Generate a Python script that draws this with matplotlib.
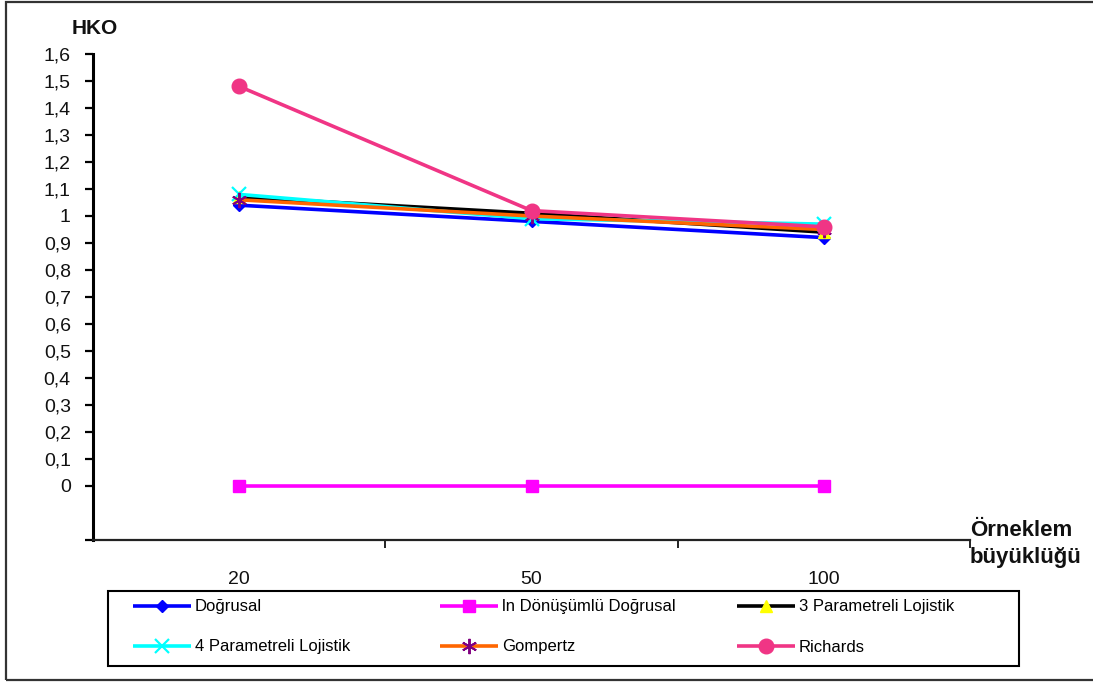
import matplotlib
matplotlib.use("Agg")
import matplotlib.pyplot as plt
from matplotlib.patches import Rectangle
from matplotlib.ticker import FixedLocator, FixedFormatter

plt.rcParams['font.family'] = ['Liberation Sans', 'DejaVu Sans']

# Sample sizes and mean-square-error values per growth model
sample_sizes = ["20", "50", "100"]
dogrusal = [1.04, 0.98, 0.92]
ln_dogrusal = [0.0, 0.0, 0.0]
lojistik_3p = [1.07, 1.01, 0.94]
lojistik_4p = [1.08, 0.99, 0.97]
gompertz = [1.06, 1.00, 0.95]
richards = [1.48, 1.02, 0.96]

y_ticks = [0, 0.1, 0.2, 0.3, 0.4, 0.5, 0.6, 0.7, 0.8, 0.9, 1.0,
           1.1, 1.2, 1.3, 1.4, 1.5, 1.6]
y_tick_labels = ["0", "0,1", "0,2", "0,3", "0,4", "0,5", "0,6", "0,7", "0,8",
                 "0,9", "1", "1,1", "1,2", "1,3", "1,4", "1,5", "1,6"]

W, H = 1093, 682
fig = plt.figure(figsize=(W / 100, H / 100), dpi=100)
ax = fig.add_axes([93/W, 1 - 540/H, (970 - 93)/W, (540 - 54)/H])

x = list(range(len(sample_sizes)))
lw = 2.6

series = [
    dict(y=dogrusal, label="Doğrusal", color="#0000FF", marker="D", ms=6.5,
         mfc="#0000FF", mec="#0000FF", mew=1),
    dict(y=ln_dogrusal, label="ln Dönüşümlü Doğrusal", color="#FF00FF", marker="s", ms=8.5,
         mfc="#FF00FF", mec="#FF00FF", mew=1),
    dict(y=lojistik_3p, label="3 Parametreli Lojistik", color="#000000", marker="^", ms=8.5,
         mfc="#FFFF00", mec="#FFFF00", mew=1),
    dict(y=lojistik_4p, label="4 Parametreli Lojistik", color="#00FFFF", marker="x", ms=10,
         mfc="#00FFFF", mec="#00FFFF", mew=1.6),
    dict(y=gompertz, label="Gompertz", color="#FF6600", marker=(6, 2, 0), ms=11,
         mfc="#800080", mec="#800080", mew=1.4),
    dict(y=richards, label="Richards", color="#F03585", marker="o", ms=10.5,
         mfc="#F03585", mec="#F03585", mew=1),
]

handles = []
for s in series:
    h, = ax.plot(x, s["y"], color=s["color"], lw=lw, marker=s["marker"],
                 markersize=s["ms"], markerfacecolor=s["mfc"],
                 markeredgecolor=s["mec"], markeredgewidth=s["mew"],
                 label=s["label"], solid_capstyle="butt")
    handles.append(h)

ax.set_xlim(-0.5, 2.5)
ax.set_ylim(-0.2, 1.6)

for side in ("top", "right"):
    ax.spines[side].set_visible(False)
ax.spines["left"].set_linewidth(2.2)
ax.spines["left"].set_color("#000000")
ax.spines["bottom"].set_linewidth(1.6)
ax.spines["bottom"].set_color("#222222")

# y axis: labelled ticks 0..1.6 plus an unlabelled tick at the bottom
ax.yaxis.set_major_locator(FixedLocator([-0.2] + y_ticks))
ax.yaxis.set_major_formatter(FixedFormatter([""] + y_tick_labels))
ax.tick_params(axis="y", which="major", direction="out", length=6, width=1.6,
               pad=10, labelsize=14, colors="#000000", labelcolor="#111111")

# x axis: ticks on category boundaries, labels centred on categories
ax.xaxis.set_major_locator(FixedLocator([0.5, 1.5, 2.5]))
ax.xaxis.set_major_formatter(FixedFormatter(["", "", ""]))
ax.xaxis.set_minor_locator(FixedLocator(x))
ax.xaxis.set_minor_formatter(FixedFormatter(sample_sizes))
ax.tick_params(axis="x", which="major", direction="out", length=6, width=1.4,
               colors="#222222")
ax.tick_params(axis="x", which="minor", length=0, pad=22, labelsize=14,
               labelcolor="#111111")

fig.text(95/W, 1 - 28/H, "HKO", fontsize=15, fontweight="bold",
         ha="center", va="center", color="#111111")
fig.text(970/W, 1 - 531/H, "Örneklem", fontsize=16, fontweight="bold",
         ha="left", va="center", color="#111111")
fig.text(970/W, 1 - 557/H, "büyüklüğü", fontsize=16, fontweight="bold",
         ha="left", va="center", color="#111111")

# legend: frame box plus one entry per slot (three columns, two rows)
fig.patches.append(Rectangle((108/W, 1 - 666/H), (1019 - 108)/W, 75/H,
                             transform=fig.transFigure, fill=False,
                             edgecolor="#000000", linewidth=1.5))
col_x = [133, 440, 737]
row_y = [607, 647]
for i, (h, s) in enumerate(zip(handles, series)):
    r, c = divmod(i, 3)
    lg = fig.legend([h], [s["label"]], loc="center left",
                    bbox_to_anchor=(col_x[c]/W, 1 - row_y[r]/H),
                    frameon=False, fontsize=12, handlelength=3.5,
                    handletextpad=0.2, borderpad=0, borderaxespad=0)

# outer chart border
fig.patches.append(Rectangle((6/W, 2/H), 1.1, 678/H, transform=fig.transFigure,
                             fill=False, edgecolor="#333333", linewidth=1.6))

fig.savefig("out.png", dpi=100)
